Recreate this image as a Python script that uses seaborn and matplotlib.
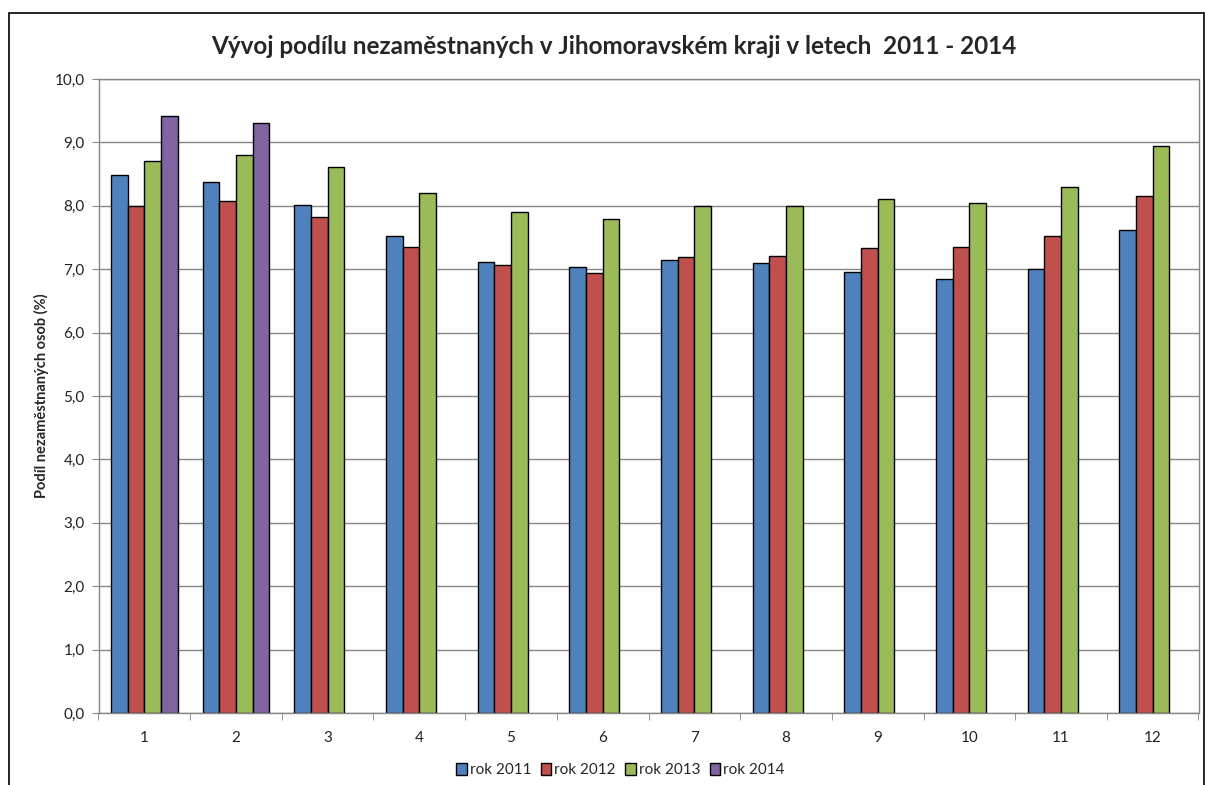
import numpy as np
import pandas as pd
import seaborn as sns
import matplotlib.pyplot as plt
from matplotlib.patches import Rectangle
from matplotlib.ticker import FuncFormatter

mesice = [str(m) for m in range(1, 13)]
rok_2011 = [8.49, 8.38, 8.02, 7.52, 7.12, 7.03, 7.15, 7.10, 6.95, 6.84, 7.00, 7.62]
rok_2012 = [7.99, 8.07, 7.83, 7.35, 7.06, 6.94, 7.20, 7.21, 7.34, 7.35, 7.53, 8.15]
rok_2013 = [8.70, 8.80, 8.61, 8.20, 7.91, 7.79, 8.00, 8.00, 8.10, 8.04, 8.30, 8.94]
rok_2014 = [9.41, 9.30] + [np.nan] * 10
roky = ['rok 2011', 'rok 2012', 'rok 2013', 'rok 2014']
barvy = ['#4F81BD', '#C0504D', '#9BBB59', '#8064A2']

df = pd.DataFrame({'mesic': mesice, 'rok 2011': rok_2011, 'rok 2012': rok_2012,
                   'rok 2013': rok_2013, 'rok 2014': rok_2014})
df = df.melt(id_vars='mesic', var_name='rok', value_name='podil')

sns.set_style('white')
plt.rcParams['font.family'] = ['Lato', 'DejaVu Sans']

fig = plt.figure(figsize=(12.05, 7.85), dpi=100)
ax = fig.add_axes([98.5 / 1205, 72 / 785, 1100 / 1205, 634 / 785])

sns.barplot(data=df, x='mesic', y='podil', hue='rok', hue_order=roky, order=mesice,
            palette=barvy, width=0.73, edgecolor='black', linewidth=1,
            saturation=1, errorbar=None, ax=ax)

ax.set_ylim(0, 10)
ax.set_xlim(-0.5, 11.5)
ax.set_yticks(np.arange(0, 10.1, 1))
ax.yaxis.set_major_formatter(FuncFormatter(lambda v, p: f'{v:.1f}'.replace('.', ',')))
ax.yaxis.grid(True, color='#868686', linewidth=1)
ax.set_axisbelow(True)
ax.tick_params(axis='y', length=5, color='#868686', labelsize=11, pad=5, left=True,
               labelcolor='#222222')
ax.set_xticks(range(12))
ax.set_xticks(np.arange(-0.5, 12, 1), minor=True)
ax.tick_params(axis='x', which='major', length=0, labelsize=11, pad=13, labelcolor='#222222')
ax.tick_params(axis='x', which='minor', length=5, color='#868686', bottom=True)
for s in ax.spines.values():
    s.set_color('#868686')
    s.set_linewidth(1)

ax.set_xlabel('')
ax.set_ylabel('Podíl nezaměstnaných osob (%)', fontsize=10.5, fontweight='bold', labelpad=4)

fig.suptitle('Vývoj podílu nezaměstnaných v Jihomoravském kraji v letech  2011 - 2014',
             x=0.509, y=0.956, fontsize=17.5, fontweight='bold')

ax.legend_.remove()
handles, labels = ax.get_legend_handles_labels()
fig.legend(handles, labels, loc='center', bbox_to_anchor=(0.515, 0.019), ncol=4,
           frameon=False, fontsize=11, handlelength=0.7, handleheight=0.8,
           handletextpad=0.2, columnspacing=0.6)

fig.patches.append(Rectangle((8.5 / 1205, -0.05), 1195.5 / 1205, (785 - 13) / 785 + 0.05,
                             transform=fig.transFigure, fill=False,
                             edgecolor='black', linewidth=1.2))

fig.savefig('out.png', dpi=100)
